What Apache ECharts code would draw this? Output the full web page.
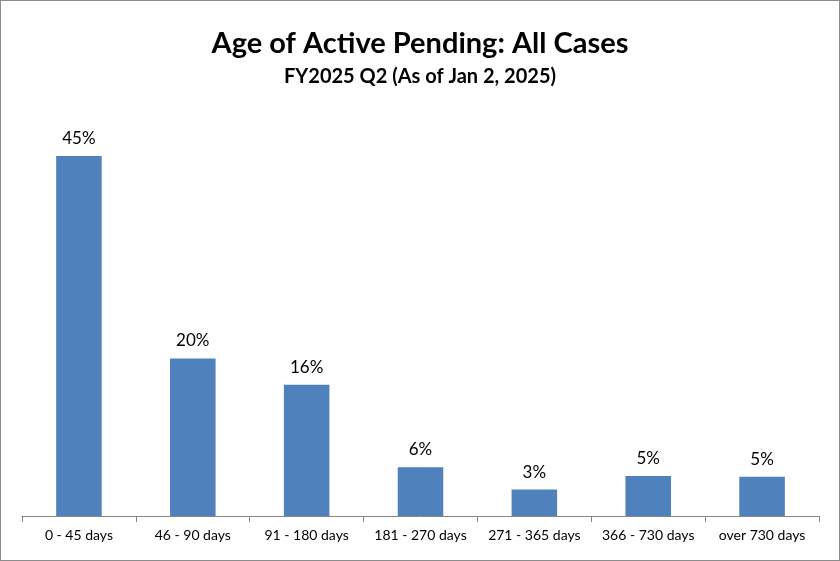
<!DOCTYPE html>
<html>
<head>
<meta charset="utf-8">
<script src="https://cdn.jsdelivr.net/npm/echarts@6/dist/echarts.min.js"></script>
<style>
html, body { margin: 0; padding: 0; background: #fff; }
#chart { width: 838px; height: 559px; border: 1px solid #8c8c8c; }
</style>
</head>
<body>
<div id="chart"></div>
<script>
var categories = ['0 - 45 days', '46 - 90 days', '91 - 180 days', '181 - 270 days', '271 - 365 days', '366 - 730 days', 'over 730 days'];
var shares = [45, 19.7, 16.4, 6.1, 3.3, 5.0, 4.9];

var myChart = echarts.init(document.getElementById('chart'));
var option = {
    title: {
        text: 'Age of Active Pending: All Cases',
        subtext: 'FY2025 Q2 (As of Jan 2, 2025)',
        left: 'center',
        top: 23,
        itemGap: 9,
        textStyle: { fontFamily: 'Lato', fontWeight: 'bold', fontSize: 29, color: '#000' },
        subtextStyle: { fontFamily: 'Lato', fontWeight: 'bold', fontSize: 20, color: '#000' }
    },
    grid: { left: 21, right: 20, top: 99, bottom: 44 },
    xAxis: {
        type: 'category',
        data: categories,
        axisLine: { lineStyle: { color: '#868686' } },
        axisTick: { show: true, length: 6, lineStyle: { color: '#868686' } },
        axisLabel: { interval: 0, fontFamily: 'Lato', fontSize: 14, color: '#000', margin: 12 }
    },
    yAxis: {
        type: 'value',
        min: 0,
        max: 52,
        show: false
    },
    series: [{
        type: 'bar',
        data: shares,
        barWidth: '40%',
        itemStyle: { color: '#4f81bd' },
        label: {
            show: true,
            position: 'top',
            distance: 9,
            fontFamily: 'Lato',
            fontSize: 17,
            color: '#000',
            formatter: function (p) { return Math.round(p.value) + '%'; }
        }
    }]
};
myChart.setOption(option);
</script>
</body>
</html>
